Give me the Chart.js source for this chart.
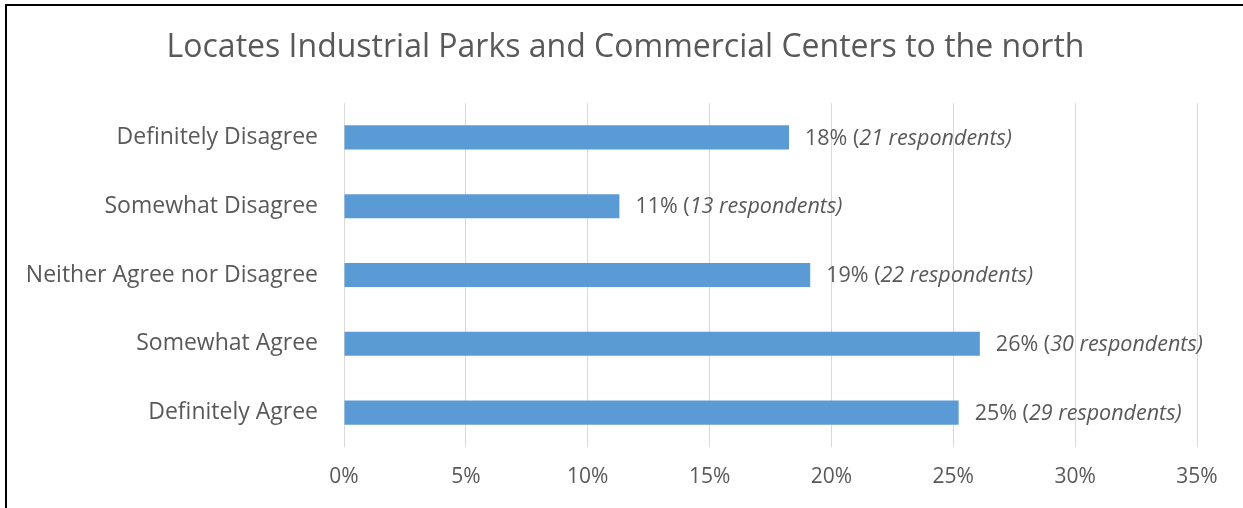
<!DOCTYPE html>
<html>
<head>
<meta charset="utf-8">
<script src="https://cdn.jsdelivr.net/npm/chart.js@4/dist/chart.umd.min.js"></script>
<style>
html,body{margin:0;padding:0;background:#fff;overflow:hidden;}
#wrap{position:absolute;left:0;top:0;width:1243px;height:508px;}
#frame{position:absolute;left:5px;top:4px;width:1300px;height:600px;border-left:2px solid #000;border-top:2px solid #000;pointer-events:none;}
</style>
</head>
<body>
<div id="wrap"><canvas id="c" width="1243" height="508"></canvas></div>
<div id="frame"></div>
<script>
const categories = ["Definitely Disagree","Somewhat Disagree","Neither Agree nor Disagree","Somewhat Agree","Definitely Agree"];
const respondents = [21, 13, 22, 30, 29];
const percentValues = [18.26, 11.30, 19.13, 26.09, 25.22];
const xTickValues = [0, 5, 10, 15, 20, 25, 30, 35];
const titleText = "Locates Industrial Parks and Commercial Centers to the north";

const FONT = "'Open Sans', 'DejaVu Sans', sans-serif";
const GREY = "#595959";

const titlePlugin = {
  id: 'customTitle',
  afterDraw(chart) {
    const ctx = chart.ctx;
    ctx.save();
    ctx.fillStyle = GREY;
    ctx.font = "normal 32px " + FONT;
    ctx.textAlign = 'center';
    ctx.textBaseline = 'middle';
    ctx.fillText(titleText, 625.5, 48);
    ctx.restore();
  }
};

const labelPlugin = {
  id: 'barLabels',
  afterDatasetsDraw(chart) {
    const ctx = chart.ctx;
    const meta = chart.getDatasetMeta(0);
    ctx.save();
    ctx.fillStyle = GREY;
    ctx.textBaseline = 'middle';
    meta.data.forEach((bar, i) => {
      const a = Math.round(percentValues[i]) + "% (";
      const b = respondents[i] + " respondents)";
      let x = bar.x + 16;
      const y = bar.y + 1;
      ctx.font = "normal 21.5px " + FONT;
      ctx.fillText(a, x, y);
      x += ctx.measureText(a).width;
      ctx.font = "italic 21.5px " + FONT;
      ctx.fillText(b, x, y);
    });
    ctx.restore();
  }
};

new Chart(document.getElementById('c'), {
  type: 'bar',
  data: {
    labels: categories,
    datasets: [{
      data: percentValues,
      backgroundColor: '#5b9bd5',
      borderWidth: 0,
      categoryPercentage: 1,
      barPercentage: 0.35
    }]
  },
  options: {
    indexAxis: 'y',
    responsive: false,
    animation: false,
    devicePixelRatio: 1,
    layout: { padding: { left: 0, right: 46, top: 103, bottom: 0 } },
    plugins: {
      legend: { display: false },
      tooltip: { enabled: false },
      title: { display: false }
    },
    scales: {
      x: {
        min: 0, max: 35,
        afterBuildTicks(scale) { scale.ticks = xTickValues.map(v => ({ value: v })); },
        afterFit(scale) { scale.height = 61; },
        ticks: {
          color: GREY,
          font: { family: FONT, size: 21 },
          padding: 17,
          callback: v => v + "%"
        },
        grid: { color: '#d9d9d9', lineWidth: 1, drawTicks: false },
        border: { display: false }
      },
      y: {
        afterFit(scale) { scale.width = 344; },
        ticks: {
          color: GREY,
          font: { family: FONT, size: 23 },
          padding: 26
        },
        grid: { display: false, drawTicks: false },
        border: { display: false }
      }
    }
  },
  plugins: [labelPlugin, titlePlugin]
});
</script>
</body>
</html>
